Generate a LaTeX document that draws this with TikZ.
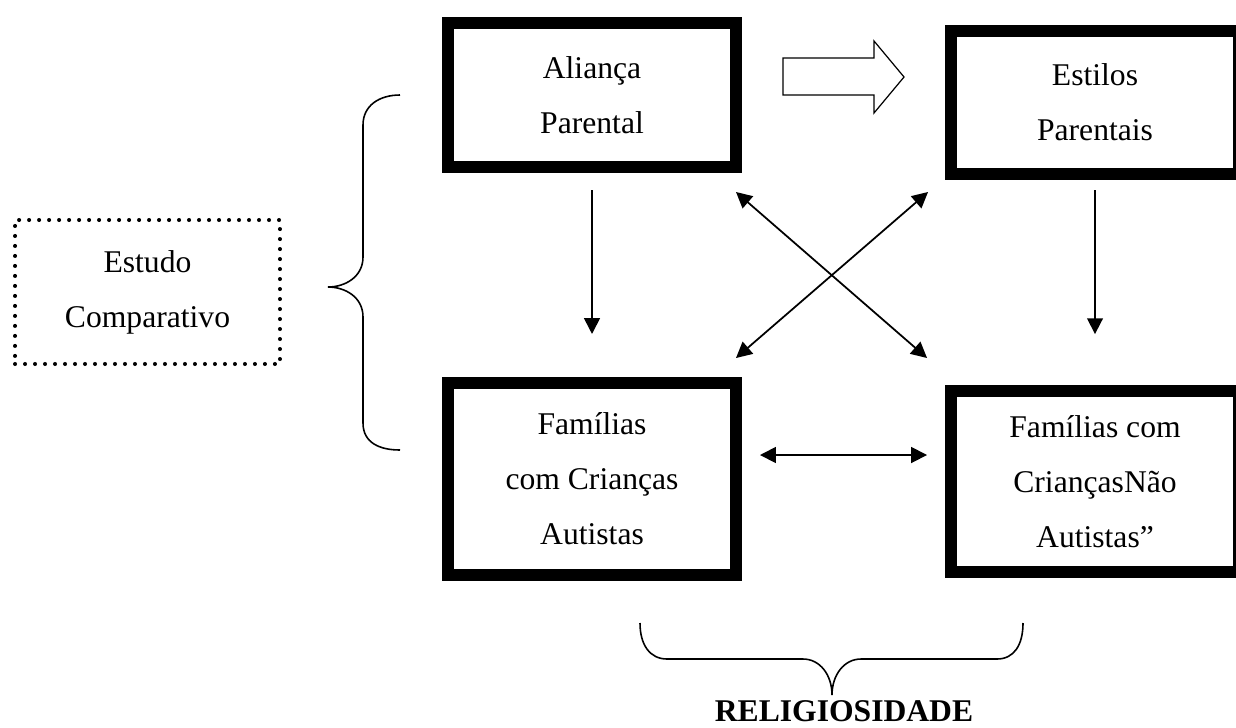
\documentclass[tikz,border=0pt]{standalone}
\usepackage{fontspec}
\setmainfont{Liberation Serif}
\usetikzlibrary{arrows.meta}

\tikzset{
  boxtext/.style={align=center, font=\fontsize{18}{31.3}\selectfont},
  thickbox/.style={boxtext, draw, line width=6.83pt, minimum width=5.76cm},
  dotbox/.style={boxtext, draw, line width=2.3pt, line cap=round, dash pattern=on 0pt off 5.69pt, minimum width=5.3cm, minimum height=2.88cm},
  downarrow/.style={line width=1pt, -{Triangle[length=9pt, width=9pt]}},
  twoway/.style={line width=1pt, {Triangle[length=9pt, width=9pt]}-{Triangle[length=9pt, width=9pt]}},
  brace/.style={line width=0.9pt},
}

\begin{document}
\begin{tikzpicture}[x=0.02cm, y=-0.02cm]

\useasboundingbox (0,0) rectangle (1236,727);

% boxes
\node[thickbox, minimum height=2.88cm] (alianca) at (592,95) {Aliança\\Parental};
\node[thickbox, minimum height=2.86cm] (estilos) at (1095,102.5) {Estilos\\Parentais};
\node[thickbox, minimum height=3.84cm] (autistas) at (592,479) {Famílias\\com Crianças\\Autistas};
\node[thickbox, minimum height=3.62cm] (naoautistas) at (1095,481.5) {Famílias com\\CriançasNão\\Autistas”};
\node[dotbox] (estudo) at (147.5,292) {Estudo\\Comparativo};

% hollow arrow
\draw[line width=0.7pt] (783,58) -- (874,58) -- (874,41) -- (904,77) -- (874,113) -- (874,95) -- (783,95) -- cycle;

% vertical arrows
\draw[downarrow, shorten <=9.7pt, shorten >=24.5pt] (alianca) -- (autistas);
\draw[downarrow, shorten <=5.7pt, shorten >=29pt] (estilos) -- (naoautistas);

% crossing arrows
\draw[twoway] ([shift={(-6,19)}]alianca.south east) -- ([shift={(-18,-27)}]naoautistas.north west);
\draw[twoway] ([shift={(-6,-19)}]autistas.north east) -- ([shift={(-17,12)}]estilos.south west);
\draw[twoway] ([shift={(18,-24)}]autistas.east) -- ([shift={(-18,-26.5)}]naoautistas.west);

% left brace
\draw[brace] (400,95) .. controls (380,95) and (363,105) .. (363,125) -- (363,257)
  .. controls (363,277) and (345,287) .. (328,287)
  .. controls (345,287) and (363,297) .. (363,317) -- (363,423)
  .. controls (363,443) and (380,450) .. (400,450);

% bottom brace
\draw[brace] (640,623) .. controls (640,645) and (650,659) .. (667,659) -- (803,659)
  .. controls (820,659) and (832,675) .. (832,695)
  .. controls (832,675) and (844,659) .. (861,659) -- (997,659)
  .. controls (1014,659) and (1023,645) .. (1023,623);

\node[anchor=base, inner sep=0pt, font=\fontsize{18}{31.3}\selectfont\bfseries] (religiosidade) at (844,721) {RELIGIOSIDADE};

\end{tikzpicture}
\end{document}
